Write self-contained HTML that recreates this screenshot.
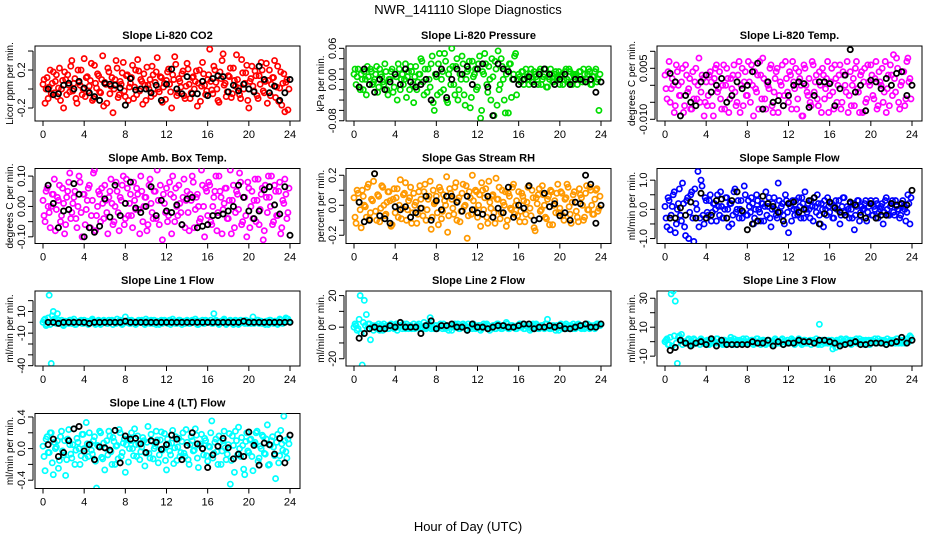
<!DOCTYPE html>
<html><head><meta charset="utf-8"><title>NWR_141110 Slope Diagnostics</title>
<style>
html,body{margin:0;padding:0;background:#fff;}
svg{display:block;font-family:"Liberation Sans",Arial,sans-serif;}
</style></head>
<body>
<svg id="chart" width="936" height="540" viewBox="0 0 936 540">
<text x="468" y="14" text-anchor="middle" font-size="13">NWR_141110  Slope Diagnostics</text>
<text x="468" y="531" text-anchor="middle" font-size="13">Hour of Day (UTC)</text>
</svg>
<script>
// ---- shared x data ----
const hoursColor = [0,0.2,0.4,0.6,0.8,1,1.2,1.4,1.6,1.8,2,2.2,2.4,2.6,2.8,3,3.2,3.4,3.6,3.8,4,4.2,4.4,4.6,4.8,5,5.2,5.4,5.6,5.8,6,6.2,6.4,6.6,6.8,7,7.2,7.4,7.6,7.8,8,8.2,8.4,8.6,8.8,9,9.2,9.4,9.6,9.8,10,10.2,10.4,10.6,10.8,11,11.2,11.4,11.6,11.8,12,12.2,12.4,12.6,12.8,13,13.2,13.4,13.6,13.8,14,14.2,14.4,14.6,14.8,15,15.2,15.4,15.6,15.8,16,16.2,16.4,16.6,16.8,17,17.2,17.4,17.6,17.8,18,18.2,18.4,18.6,18.8,19,19.2,19.4,19.6,19.8,20,20.2,20.4,20.6,20.8,21,21.2,21.4,21.6,21.8,22,22.2,22.4,22.6,22.8,23,23.2,23.4,23.6,23.8];
const hoursColor2 = [0.1,0.3,0.5,0.7,0.9,1.1,1.3,1.5,1.7,1.9,2.1,2.3,2.5,2.7,2.9,3.1,3.3,3.5,3.7,3.9,4.1,4.3,4.5,4.7,4.9,5.1,5.3,5.5,5.7,5.9,6.1,6.3,6.5,6.7,6.9,7.1,7.3,7.5,7.7,7.9,8.1,8.3,8.5,8.7,8.9,9.1,9.3,9.5,9.7,9.9,10.1,10.3,10.5,10.7,10.9,11.1,11.3,11.5,11.7,11.9,12.1,12.3,12.5,12.7,12.9,13.1,13.3,13.5,13.7,13.9,14.1,14.3,14.5,14.7,14.9,15.1,15.3,15.5,15.7,15.9,16.1,16.3,16.5,16.7,16.9,17.1,17.3,17.5,17.7,17.9,18.1,18.3,18.5,18.7,18.9,19.1,19.3,19.5,19.7,19.9,20.1,20.3,20.5,20.7,20.9,21.1,21.3,21.5,21.7,21.9,22.1,22.3,22.5,22.7,22.9,23.1,23.3,23.5,23.7,23.9];
const hoursBlack = [0.5,1,1.5,2,2.5,3,3.5,4,4.5,5,5.5,6,6.5,7,7.5,8,8.5,9,9.5,10,10.5,11,11.5,12,12.5,13,13.5,14,14.5,15,15.5,16,16.5,17,17.5,18,18.5,19,19.5,20,20.5,21,21.5,22,22.5,23,23.5,24];
const xTicks = [0,4,8,12,16,20,24];

// ---- panel titles ----
const panelTitles = ["Slope Li-820 CO2","Slope Li-820 Pressure","Slope Li-820 Temp.","Slope Amb. Box Temp.","Slope Gas Stream RH","Slope Sample Flow","Slope Line 1 Flow","Slope Line 2 Flow","Slope Line 3 Flow","Slope Line 4 (LT) Flow"];
const yTitles = ["Licor ppm per min.","kPa per min.","degrees C per min.","degrees C per min.","percent per min.","ml/min per min.","ml/min per min.","ml/min per min.","ml/min per min.","ml/min per min."];

// ---- y ticks ----
const yTicks1 = [-0.2,0,0.2,0.4]; const yTickLabels1 = ["-0.2","","0.2",""];
const yTicks2 = [-0.08,-0.06,-0.04,-0.02,0,0.02,0.04,0.06]; const yTickLabels2 = ["-0.08","","","","0.00","","","0.06"];
const yTicks3 = [-0.010,-0.005,0,0.005,0.010]; const yTickLabels3 = ["-0.010","","","0.005",""];
const yTicks4 = [-0.1,-0.05,0,0.05,0.1]; const yTickLabels4 = ["-0.10","","0.00","","0.10"];
const yTicks5 = [-0.2,-0.1,0,0.1,0.2]; const yTickLabels5 = ["-0.2","","0.0","","0.2"];
const yTicks6 = [-1,-0.5,0,0.5,1]; const yTickLabels6 = ["-1.0","","0.0","","1.0"];
const yTicks7 = [-40,-30,-20,-10,0,10,20]; const yTickLabels7 = ["-40","","","-10","","10",""];
const yTicks8 = [-20,-10,0,10,20]; const yTickLabels8 = ["-20","","0","","20"];
const yTicks9 = [-10,0,10,20,30]; const yTickLabels9 = ["-10","","10","","30"];
const yTicks10 = [-0.4,-0.2,0,0.2,0.4]; const yTickLabels10 = ["-0.4","","0.0","","0.4"];

// ---- y limits ----
const yLim1 = [-0.337,0.453];
const yLim2 = [-0.0805,0.0645];
const yLim3 = [-0.0105,0.01156];
const yLim4 = [-0.122,0.125];
const yLim5 = [-0.255,0.245];
const yLim6 = [-1.17,1.40];
const yLim7 = [-40.3,28.9];
const yLim8 = [-24.6,22.9];
const yLim9 = [-16.8,35];
const yLim10 = [-0.505,0.444];

// ---- series values ----
const co2Color = [.05,-.15,.12,.02,-.05,.18,.08,-.08,.22,.0,-.2,.1,.15,-.03,.3,.06,-.1,.2,.04,-.06,.32,.12,-.02,.09,-.12,.25,.01,.14,-.04,.35,.07,-.15,.18,.03,-.25,.1,.22,-.06,.05,.28,-.08,.15,.02,.12,-.1,.2,.31,-.02,.08,.16,-.12,.04,.1,.24,-.05,.18,.0,.13,-.14,.06,.09,.21,-.03,.15,.34,-.07,.11,.02,.19,-.1,.27,.05,-.04,.13,.08,-.18,.2,.03,.16,-.06,.1,.42,-.01,.24,.07,-.12,.18,.3,.04,-.08,.14,.22,-.05,.09,.36,.01,-.1,.17,.06,.25,-.2,.11,.03,.19,-.07,.14,.28,-.02,.08,-.15,.2,.05,.12,-.09,.24,.01,-.17,.16,.07,-.22];
const co2Color2 = [.1,.0,-.1,.2,.06,-.04,.15,.01,-.12,.09,.18,-.06,.04,.24,-.02,.11,-.15,.07,.2,.0,-.08,.13,.03,.27,-.1,.06,.16,-.03,.1,-.18,.05,.22,-.05,.12,.0,.3,-.09,.08,.17,-.02,.14,-.12,.06,.25,.02,-.06,.19,.1,-.16,.04,.23,.0,-.08,.15,.07,.33,-.03,.12,.02,-.11,.18,.05,-.2,.1,.26,-.04,.08,.16,-.07,.03,.21,-.1,.12,.0,.19,.06,-.13,.28,.04,-.02,.15,.08,-.05,.2,.0,-.14,.11,.37,.06,-.03,.13,-.09,.22,.03,.1,-.06,.31,.0,.17,-.12,.08,.24,-.02,.14,-.1,.05,.2,-.04,.27,.09,-.07,.12,.3,.02,-.13,.18,.06,-.24,.1,.0];
const co2Black = [.0,-.06,-.05,.04,.06,.0,.08,.01,-.04,-.08,-.12,.06,.05,.04,.01,-.17,.11,-.01,.0,.0,-.04,.04,-.12,.05,.21,.0,-.05,.13,-.05,-.05,.08,-.07,.11,.14,.13,-.03,.04,-.02,.05,.0,-.03,.24,.1,-.04,.03,-.12,-.04,.1];
const pressColor = [.01,-.01,.02,-.02,.0,.015,-.03,.005,.02,-.01,.0,.025,-.015,.01,-.005,.03,-.02,.0,.015,-.025,.01,-.04,.02,.0,-.01,.03,.005,-.02,.015,-.045,.025,-.005,.01,.035,-.03,.0,.02,-.015,.045,-.06,.005,.03,-.025,.015,.05,-.04,.01,-.01,.025,-.03,.04,-.02,.0,.03,-.05,.015,.035,-.035,.005,.02,-.015,.045,-.06,.01,.03,-.025,.0,.04,-.07,.02,.055,-.01,.025,-.04,.01,-.065,.03,.0,.045,-.03,.01,-.005,.015,.0,.005,-.01,.02,-.005,.01,.0,.015,-.01,.005,.02,-.015,.0,.01,-.005,.015,.005,-.01,.01,.0,.02,-.005,.015,-.01,.005,.01,.0,.015,-.005,.01,.0,.02,-.01,.005,.015,-.005,-.06];
const pressColor2 = [.02,.005,-.015,.01,-.02,.0,.025,-.01,.015,-.005,.01,-.025,.02,.005,-.01,.015,-.03,.0,.02,-.015,.005,.03,-.02,.01,.0,-.035,.015,.025,-.01,.005,-.02,.01,.04,-.005,.02,-.025,.0,.03,-.045,.01,-.03,.05,.0,-.02,.035,-.045,.02,.06,-.01,.025,-.04,.01,.045,-.03,.0,.02,-.055,.035,.01,-.02,.03,-.075,.015,.05,-.01,.025,-.04,.005,.035,-.05,-.02,.04,.0,-.065,.02,.03,-.035,.01,.05,.0,.005,.015,-.01,.02,.0,.01,-.005,.015,.005,-.01,.02,.0,.01,-.015,.005,.02,-.005,.01,.0,.015,.005,-.01,.015,.0,.02,-.005,.01,.005,-.01,.015,.0,.02,-.005,.01,.015,-.01,.005,.02,.0,.01];
const pressBlack = [-.015,.02,-.01,-.025,.0,-.02,-.005,.01,-.01,.02,-.005,-.015,-.01,.0,-.04,.01,.02,-.035,.0,.02,.01,.025,-.01,.02,.03,-.015,-.07,.03,.02,.015,.0,-.01,.0,.005,-.01,.01,.02,.01,-.01,.0,.01,-.01,.0,.0,-.005,.0,-.025,-.005];
const liTempColor = [.003,-.004,.007,-.001,.0,-.006,.004,-.003,.001,-.008,.006,-.002,.002,-.007,-.004,.005,.0,-.005,.003,-.009,.001,-.003,.004,-.006,.002,.006,-.001,-.004,.0,-.007,.005,-.008,.002,.003,-.002,-.005,.007,.0,-.006,.004,-.003,.001,.006,-.009,-.001,.003,.007,-.004,.002,-.007,.0,.005,-.006,-.002,.004,-.008,.001,.006,-.003,.002,-.005,.003,.007,-.001,-.007,.004,.0,-.009,.005,-.002,.002,-.006,.006,.001,-.004,.004,-.008,.003,-.001,.007,-.003,.005,-.007,.002,.0,.006,-.005,.003,-.002,-.008,.004,.0,-.006,.007,-.002,.003,-.008,.005,-.004,.001,.006,-.003,.002,-.007,.004,.0,-.005,.007,-.001,-.006,.003,.009,-.002,.005,-.007,.001,.004,-.004,.008,.002];
const liTempColor2 = [-.001,.004,-.005,.002,-.008,.006,.0,-.003,.005,-.006,.003,-.001,-.007,.004,.001,-.004,.008,-.002,.002,-.005,-.006,.003,.001,-.009,.005,-.002,.004,-.007,.006,.0,.002,-.004,-.001,.006,-.006,.003,-.008,.005,.001,-.003,.007,-.005,.0,.004,-.002,-.007,.003,.008,-.004,.001,-.001,.006,-.008,.002,.005,-.003,.0,-.006,.007,-.002,.004,-.007,.001,.005,-.004,.002,-.009,.006,.0,-.003,-.005,.007,-.002,.003,-.006,.0,.005,-.004,.002,-.008,.001,-.002,.006,-.005,.003,-.007,.004,.0,.007,-.003,-.006,.002,.005,-.001,-.008,.004,.001,-.005,.006,.0,.003,-.004,.007,-.006,.001,.005,-.002,-.008,.003,.006,-.003,.002,.008,-.005,.0,.004,-.006,.007,.001,-.004];
const liTempBlack = [.0035,.001,-.009,-.003,-.005,-.006,.001,.003,-.002,.0,.002,-.005,-.003,.001,-.001,.0,.004,.0065,-.007,.001,-.005,-.0045,-.006,-.003,.0,.001,.0005,-.0065,-.003,.001,.001,.0005,-.006,-.001,.003,.0105,-.002,.0,-.0075,.0015,.001,-.001,.002,.0,.0035,.004,-.003,.0];
const ambColor = [.02,-.05,.06,-.02,.0,.04,-.08,.03,.07,-.03,.01,-.06,.05,.11,-.02,.03,-.04,.0,.08,-.1,.04,-.01,.06,-.07,.02,.12,-.03,.05,-.05,.01,.07,-.02,.03,.09,-.06,.0,.05,-.08,.02,.1,-.04,.06,.01,-.03,.08,-.01,.04,-.09,.05,.0,.03,-.06,.09,-.02,.05,-.04,.02,.07,-.11,.01,.06,-.03,.04,.1,-.05,.0,.07,-.02,.03,-.07,.05,-.08,.02,.08,-.01,.04,-.05,.12,.0,.06,-.03,.07,-.06,.03,.1,-.02,.05,-.09,.01,.06,-.04,.12,.02,-.07,.05,-.01,.08,-.05,.03,-.1,.06,.0,-.04,.09,.02,-.06,.04,-.11,.07,-.02,.03,.1,-.05,.05,-.03,.08,-.07,.01,.04,-.02];
const ambColor2 = [-.03,.05,.0,-.07,.04,.09,-.01,.02,-.05,.06,-.09,.03,.08,-.04,.01,.05,-.07,.1,-.02,.04,-.06,.02,.07,-.03,.11,-.08,.0,.04,.06,-.04,.02,-.09,.05,.01,-.05,.08,-.02,.03,.07,-.06,.09,-.03,.04,-.07,.02,.06,-.01,.1,-.05,.03,-.08,.07,.01,-.04,.05,.12,-.06,.02,.04,-.02,-.05,.08,-.09,.03,.06,-.03,.01,-.06,.09,.02,-.02,.04,.1,-.07,.03,.0,-.04,.07,-.1,.05,.08,-.05,.0,.05,-.08,.1,.03,-.01,.06,-.04,.02,-.09,.07,-.02,.04,.11,-.06,.03,-.03,.08,-.07,.05,.02,-.05,.09,-.01,.06,-.08,.03,.1,.0,-.06,.07,-.03,.05,-.09,.02,.09,-.04,.06];
const ambBlack = [.07,.01,-.07,-.015,-.01,.075,.04,-.1,-.07,-.085,-.065,.025,-.035,.07,-.03,.01,.08,-.005,-.02,.0,.065,-.03,.02,-.015,-.02,.005,-.06,.025,.03,-.07,-.065,-.06,-.03,-.03,-.025,-.015,.0,.07,.03,-.015,-.04,-.015,.055,.065,.005,-.025,.065,-.095];
const rhColor = [.05,-.12,.08,-.03,.1,.0,-.08,.14,-.05,.03,.21,-.1,.06,-.02,.12,-.07,.02,.09,-.14,.04,-.05,.11,.0,-.09,.07,.15,-.03,.05,-.12,.08,.02,-.06,.13,-.02,.09,-.1,.04,.16,-.08,.01,.06,-.13,.1,-.04,.03,.19,-.07,.08,-.02,.12,-.1,.05,-.04,.14,.0,-.22,.09,-.06,.03,.1,-.08,.07,.15,-.03,.11,-.12,.02,.06,-.05,.18,.04,-.09,.1,.0,-.14,.08,-.02,.12,-.06,.03,.09,-.04,.06,-.11,.02,.13,-.07,.05,-.17,.01,.11,-.03,.07,-.08,.04,-.13,.09,.0,-.05,.14,-.02,.08,-.1,.05,.12,-.06,.02,.09,-.04,-.11,.07,.0,-.08,.13,-.03,.1,-.06,.04,.11,-.02];
const rhColor2 = [-.08,.1,.02,-.15,.06,-.01,.12,-.09,.04,.16,-.04,.07,-.11,.13,.0,-.06,.09,.03,-.13,.11,.05,-.08,.17,-.02,.08,-.1,.03,.12,-.05,.0,-.12,.09,.04,-.07,.14,-.03,.06,-.16,.1,.02,-.05,.12,-.09,.07,.0,-.18,.11,.04,-.06,.15,.03,-.11,.08,-.01,.13,-.07,.05,.2,-.03,.09,.0,-.14,.1,.05,-.08,.16,-.02,.07,-.12,.04,.12,-.05,.02,.09,-.1,.06,-.03,.14,.0,-.07,-.11,.08,.03,-.06,.12,-.02,.1,-.15,.05,.07,-.04,.13,.0,-.09,.06,.1,-.13,.03,.08,-.05,.09,-.07,.04,.14,-.01,-.12,.07,.02,-.08,.11,.05,-.1,.08,-.03,.12,.0,-.06,.1,-.04,.06];
const rhBlack = [.02,-.11,-.1,.21,-.07,-.09,-.12,-.01,-.03,-.01,-.08,-.05,-.02,.06,-.1,.03,-.03,.06,.06,.02,-.04,.06,-.03,-.05,-.06,.06,-.08,-.02,-.05,.12,-.08,.0,-.02,.13,-.1,-.09,.08,-.01,.01,-.07,-.05,-.1,.02,.01,.2,.14,-.12,.0];
const sampleColor = [.1,-.6,.3,-.2,.5,-.8,.0,.7,-.4,.2,-.9,.4,-.1,.6,-1.1,.2,1.3,-.3,.8,-.5,.3,-.2,.5,-.1,.2,-.4,.1,.6,-.3,.0,.4,-.6,.2,-.2,.7,.0,-.3,.3,-.1,.5,-.2,.1,.4,-.5,.0,.3,-.1,.2,-.4,.6,.1,-.3,.0,.4,-.2,.9,-.1,.2,-.5,.3,-.8,.1,.3,-.2,.0,.4,-.3,.2,.6,-.1,.0,.3,-.4,.1,.5,-.2,.2,-.6,.0,.4,-.1,.2,-.3,.3,.0,-.5,.1,.4,-.2,.0,.2,-.3,-.7,.1,.3,-.1,.0,.2,-.4,.1,.3,-.2,.0,.2,-.1,.1,-.5,.3,.0,-.2,.2,-.1,.3,.0,-.3,.2,.1,-.4,.5,-.5];
const sampleColor2 = [-.3,.4,-.7,.1,.6,-.5,.2,-.2,.9,-.6,.3,-1.0,.5,-.3,.7,.0,-.6,1.0,-.2,.4,-.1,.3,-.4,.2,.0,.5,-.2,.1,-.3,.4,.0,.2,-.5,.6,-.1,.3,.0,-.3,.8,-.2,.3,-.1,.2,-.3,.5,.0,-.4,.2,.1,-.2,.4,-.6,.2,.0,-.3,.3,.1,-.2,.5,-.1,.2,-.4,.0,.3,-.2,.1,.4,-.3,.0,.2,-.3,.1,.4,-.1,.2,-.5,.0,.3,-.2,.1,.2,-.3,.1,.0,.3,-.2,.4,-.1,.1,-.3,.0,.2,-.2,.3,-.4,.1,.0,.3,-.1,.2,-.2,.1,.3,-.3,.0,.2,-.1,.4,-.2,.1,.3,-.2,.1,.0,-.2,.3,.0,-.1,.2,.4];
const sampleBlack = [-.3,-.3,.05,-.2,.25,-.3,.55,-.3,-.2,.3,.35,-.3,.3,.6,-.05,-.7,-.5,-.4,.45,.2,.1,-.1,-.4,.2,.25,-.1,.0,.3,.4,-.5,-.15,.25,.05,-.1,-.2,.25,.15,-.2,-.3,.2,-.3,-.2,-.2,.2,.15,.2,.15,.65];
const line1Color = [0,3,-2,25,-38,10,1,8,-1,2,-3,1,0,2,-1,3,-2,0,1,-1,2,0,-2,1,3,-1,0,2,-2,1,0,-1,2,1,-2,0,3,1,-1,0,5,1,-1,2,0,-2,1,0,2,-1,3,0,-1,1,2,-2,0,1,-1,2,0,1,-2,3,0,-1,2,1,0,-1,2,-1,0,1,3,-2,1,0,-1,2,1,0,-1,8,2,-1,0,1,3,-2,0,2,-1,1,0,-2,2,1,-1,0,1,-1,5,0,2,-1,1,0,-2,1,2,0,-1,1,-2,3,0,1,4,3];
const line1Color2 = [2,-3,4,-2,6,3,-1,2,0,-2,1,0,-1,2,1,-2,0,1,2,-1,0,1,-1,2,0,-2,1,0,-1,2,1,-1,0,2,1,-1,0,2,-2,1,0,2,-1,1,0,-1,2,0,1,-2,1,0,2,-1,0,1,-2,2,0,1,-1,2,0,1,-1,0,2,-2,1,0,1,-1,2,0,1,-2,0,2,-1,1,0,2,-1,1,0,-2,1,2,0,-1,1,0,-2,2,1,-1,0,1,2,-1,0,1,-1,0,2,1,-1,0,1,-2,2,0,1,-1,0,2,-1,1,3,1];
const line1Black = [0,0,-1,0,0,0,0,0,-1,0,0,0,0,0,0,1,0,0,0,0,0,0,0,0,0,0,0,0,0,0,0,0,0,0,0,0,0,0,1,0,0,0,0,0,0,0,0,0];
const line2Color = [0,1,-1,20,-24,17,8,2,-8,1,0,-1,2,1,-2,0,1,-1,2,0,1,-2,0,1,2,-1,0,1,-1,2,0,1,-1,0,3,-1,1,6,0,-1,1,0,2,-1,0,1,-2,1,0,2,1,-1,0,2,1,-2,0,1,2,-1,0,1,-1,2,0,1,-2,0,1,-1,2,0,-1,1,3,-1,0,1,0,-1,1,0,2,-1,1,0,-1,2,0,1,-1,1,0,2,5,-1,0,1,-2,0,1,-1,0,2,0,1,-1,0,1,2,0,1,-1,2,0,1,0,-1,2,1];
const line2Color2 = [2,-2,5,-4,3,1,-1,2,0,-2,1,0,-2,1,2,0,-1,1,0,-1,2,0,1,-1,0,2,-1,1,0,-1,1,2,0,-1,1,0,2,-1,0,1,-1,0,1,2,-1,0,1,-2,1,0,2,-1,0,1,-1,2,0,-1,1,0,1,-2,0,1,2,-1,0,1,-1,2,0,-1,1,0,2,-1,1,0,-1,1,2,0,-1,1,0,-2,1,0,2,-1,0,1,-1,2,0,-1,1,0,1,-2,2,0,1,-1,0,1,2,-1,0,1,-1,1,0,2,-1,0,1,0,2,1];
const line2Black = [-7,-4,-1,0,-1,-1,1,0,3,0,0,0,-4,1,4,-1,1,1,2,0,0,-2,2,0,0,-1,0,1,1,0,0,1,2,2,-1,0,0,1,0,1,-1,-1,0,1,2,0,0,2];
const line3Color = [0,2,-2,33,35,28,-15,4,5,0,-1,1,-2,0,2,-1,0,-2,1,-1,0,-2,1,-1,0,2,-1,0,-2,1,-1,0,3,-2,0,1,-1,0,2,-1,0,-1,1,-2,0,2,-1,0,1,-2,1,-1,0,-2,1,0,-1,2,0,-1,-1,0,1,-2,0,2,-1,0,1,-1,0,-2,1,0,-1,12,-2,0,1,-1,0,1,-1,-4,0,1,-2,0,2,-1,1,-1,0,2,-1,0,1,-2,0,1,-1,0,2,-1,0,1,-1,0,2,-1,0,1,-1,2,0,-1,1,0,2,4];
const line3Color2 = [1,-2,3,-3,4,-1,3,1,-2,0,-1,2,0,-2,1,-1,0,2,-1,0,1,-2,0,1,-1,2,0,-1,1,-2,0,1,-1,2,-2,0,1,-1,0,2,-1,0,1,-1,2,0,-2,1,0,-1,1,-1,0,2,-1,0,1,-2,0,1,-1,2,0,-1,1,0,-2,1,-1,0,1,0,-1,2,-2,0,1,-1,0,1,-1,-5,0,1,-1,2,0,-1,1,0,-2,1,0,-1,2,0,-1,1,0,-2,1,0,-1,2,0,-1,1,-2,0,1,-1,0,2,-1,1,0,-1,2,0,3];
const line3Black = [-6,-4,1,-1,-3,-1,0,-2,2,-3,1,-2,-2,-2,-2,-2,0,-1,-1,1,-3,0,-2,-1,-1,1,0,0,-1,1,1,0,-1,-3,-2,-1,0,-2,-2,-1,-1,-1,-2,-1,0,3,-1,1];
const line4Color = [.03,-.28,.15,-.05,.2,-.33,.0,.1,-.15,.22,-.08,-.34,.12,.05,-.12,.25,-.02,.08,-.2,.18,.0,.33,-.1,.06,-.07,.15,-.5,.03,.2,-.13,-.27,.1,.22,-.04,.14,-.2,.04,.24,-.1,.07,-.3,.12,.0,.2,-.09,.05,.16,-.14,.02,.1,-.06,.28,-.12,.09,.0,.22,-.18,.11,-.02,.19,-.27,.06,-.08,.23,.01,-.15,.13,-.05,.2,-.1,.08,-.2,.15,-.03,.25,-.12,.04,.18,-.08,.1,-.16,.02,.35,-.06,.12,-.2,.08,-.03,.22,-.14,.05,-.45,.16,-.3,.1,.27,-.1,.04,-.33,.2,-.05,.12,-.28,.08,.22,-.12,.0,.15,-.07,.3,-.2,.1,.02,-.38,.18,-.09,.06,.41,-.04,.12];
const line4Color2 = [-.1,.12,-.05,.2,-.18,.08,.02,-.25,.15,-.03,.1,-.14,.24,-.07,.05,-.2,.13,.0,-.09,.18,-.12,.06,.2,-.02,.1,-.16,.04,.22,-.11,.07,.0,-.08,.16,-.2,.09,.03,-.13,.2,-.05,.12,.05,-.17,.1,.0,.25,-.1,.06,-.04,.14,-.22,.08,-.06,.18,-.13,.03,.11,-.08,.21,.0,-.15,.12,-.03,.07,-.19,.15,.02,-.1,.09,-.06,.24,-.14,.05,.1,-.02,.17,-.24,.06,.0,.13,-.09,.03,.2,-.12,.08,-.04,.16,-.2,.1,.01,-.07,.19,-.15,.04,.22,-.08,.0,.14,-.26,.09,-.03,.11,-.1,.06,.2,-.16,.03,.17,-.06,.12,-.21,.04,.15,-.09,.08,-.18,.23,-.02,.1,-.12,.06];
const line4Black = [.05,.12,-.1,-.05,.1,.25,.28,-.03,.05,-.14,.02,.01,-.02,.23,-.18,.16,.12,.13,.06,-.05,.1,.08,-.01,.05,.17,.12,-.14,.04,.2,.06,.0,-.24,-.08,.03,.13,.01,-.13,-.07,-.1,.21,.04,-.21,.07,.05,-.07,.13,-.18,.17];

const seriesColorVals = [co2Color,pressColor,liTempColor,ambColor,rhColor,sampleColor,line1Color,line2Color,line3Color,line4Color];
const seriesColorVals2 = [co2Color2,pressColor2,liTempColor2,ambColor2,rhColor2,sampleColor2,line1Color2,line2Color2,line3Color2,line4Color2];
const seriesBlackVals = [co2Black,pressBlack,liTempBlack,ambBlack,rhBlack,sampleBlack,line1Black,line2Black,line3Black,line4Black];
const yLims = [yLim1,yLim2,yLim3,yLim4,yLim5,yLim6,yLim7,yLim8,yLim9,yLim10];
const yTicksAll = [yTicks1,yTicks2,yTicks3,yTicks4,yTicks5,yTicks6,yTicks7,yTicks8,yTicks9,yTicks10];
const yTickLabelsAll = [yTickLabels1,yTickLabels2,yTickLabels3,yTickLabels4,yTickLabels5,yTickLabels6,yTickLabels7,yTickLabels8,yTickLabels9,yTickLabels10];

// styling (not data)
const strokeColors = ["#ff0000","#00dd00","#ff00ff","#ff00ff","#ff9900","#0000ff","#00ffff","#00ffff","#00ffff","#00ffff"];
const slugs = ["co2","pressure","li-temp","amb-box-temp","gas-stream-rh","sample-flow","line1-flow","line2-flow","line3-flow","line4-flow"];

const NS = "http://www.w3.org/2000/svg";
const svg = document.getElementById("chart");
function mk(tag, attrs, parent){
  const e = document.createElementNS(NS, tag);
  for (const k in attrs) e.setAttribute(k, attrs[k]);
  (parent||svg).appendChild(e);
  return e;
}

for (let p = 0; p < 10; p++){
  const col = p % 3, row = Math.floor(p / 3);
  const x0 = 43 + 311 * col, x24 = x0 + 247;
  const left = x0 - 8, right = x24 + 10;
  const top = 46 + 122.5 * row, bottom = top + 75;
  const lim = yLims[p];
  const xs = h => x0 + (h / 24) * (x24 - x0);
  const ys = v => bottom - (v - lim[0]) / (lim[1] - lim[0]) * (bottom - top);

  const g = mk("g", {});
  
  

  const title = mk("text", {x:(left+right)/2, y:top-7, "text-anchor":"middle", "font-size":"11", "font-weight":"bold"}, g);
  title.textContent = panelTitles[p];
  
  

  const box = mk("rect", {x:left, y:top, width:right-left, height:bottom-top, fill:"none", stroke:"#000", "stroke-width":"1"}, g);
  
  

  const cp = mk("clipPath", {id:"clip"+p}, g);
  mk("rect", {x:left, y:top, width:right-left, height:bottom-top}, cp);
  const pts = mk("g", {"clip-path":"url(#clip"+p+")"}, g);
  
  

  const cv = seriesColorVals[p];
  for (let i = 0; i < cv.length && i < hoursColor.length; i++){
    const c = mk("circle", {cx:xs(hoursColor[i]), cy:ys(cv[i]), r:"2.6", fill:"none", stroke:strokeColors[p], "stroke-width":"1.7"}, pts);
    
    
  }
  const cv2 = seriesColorVals2[p];
  for (let i = 0; i < cv2.length && i < hoursColor2.length; i++){
    const c = mk("circle", {cx:xs(hoursColor2[i]), cy:ys(cv2[i]), r:"2.6", fill:"none", stroke:strokeColors[p], "stroke-width":"1.7"}, pts);
    
    
  }
  const bv = seriesBlackVals[p];
  for (let i = 0; i < bv.length && i < hoursBlack.length; i++){
    const c = mk("circle", {cx:xs(hoursBlack[i]), cy:ys(bv[i]), r:"2.6", fill:"none", stroke:"#000", "stroke-width":"1.8"}, pts);
    
    
  }

  const xa = mk("g", {}, g);
  
  
  mk("line", {x1:xs(xTicks[0]), x2:xs(xTicks[xTicks.length-1]), y1:bottom, y2:bottom, stroke:"#000"}, xa);
  xTicks.forEach(t => {
    mk("line", {x1:xs(t), x2:xs(t), y1:bottom, y2:bottom+5, stroke:"#000"}, xa);
    const tl = mk("text", {x:xs(t), y:bottom+17, "text-anchor":"middle", "font-size":"11"}, xa);
    tl.textContent = t;
    
    
  });

  const ya = mk("g", {}, g);
  
  
  const yt = yTicksAll[p], yl = yTickLabelsAll[p];
  const ax = left - 2;
  mk("line", {x1:ax, x2:ax, y1:ys(yt[0]), y2:ys(yt[yt.length-1]), stroke:"#000"}, ya);
  yt.forEach((t, i) => {
    mk("line", {x1:ax-5, x2:ax, y1:ys(t), y2:ys(t), stroke:"#000"}, ya);
    if (yl[i]){
      const tx = left - 10, ty = ys(t);
      const tl = mk("text", {x:tx, y:ty, "text-anchor":"middle", "font-size":"11", transform:"rotate(-90 "+tx+" "+ty+")"}, ya);
      tl.textContent = yl[i];
      
      
    }
  });
  const yx = left - 22, yy = (top + bottom) / 2;
  const ytl = mk("text", {x:yx, y:yy, "text-anchor":"middle", "font-size":"10", transform:"rotate(-90 "+yx+" "+yy+")"}, ya);
  ytl.textContent = yTitles[p];
  
  
}
</script>
</body></html>
